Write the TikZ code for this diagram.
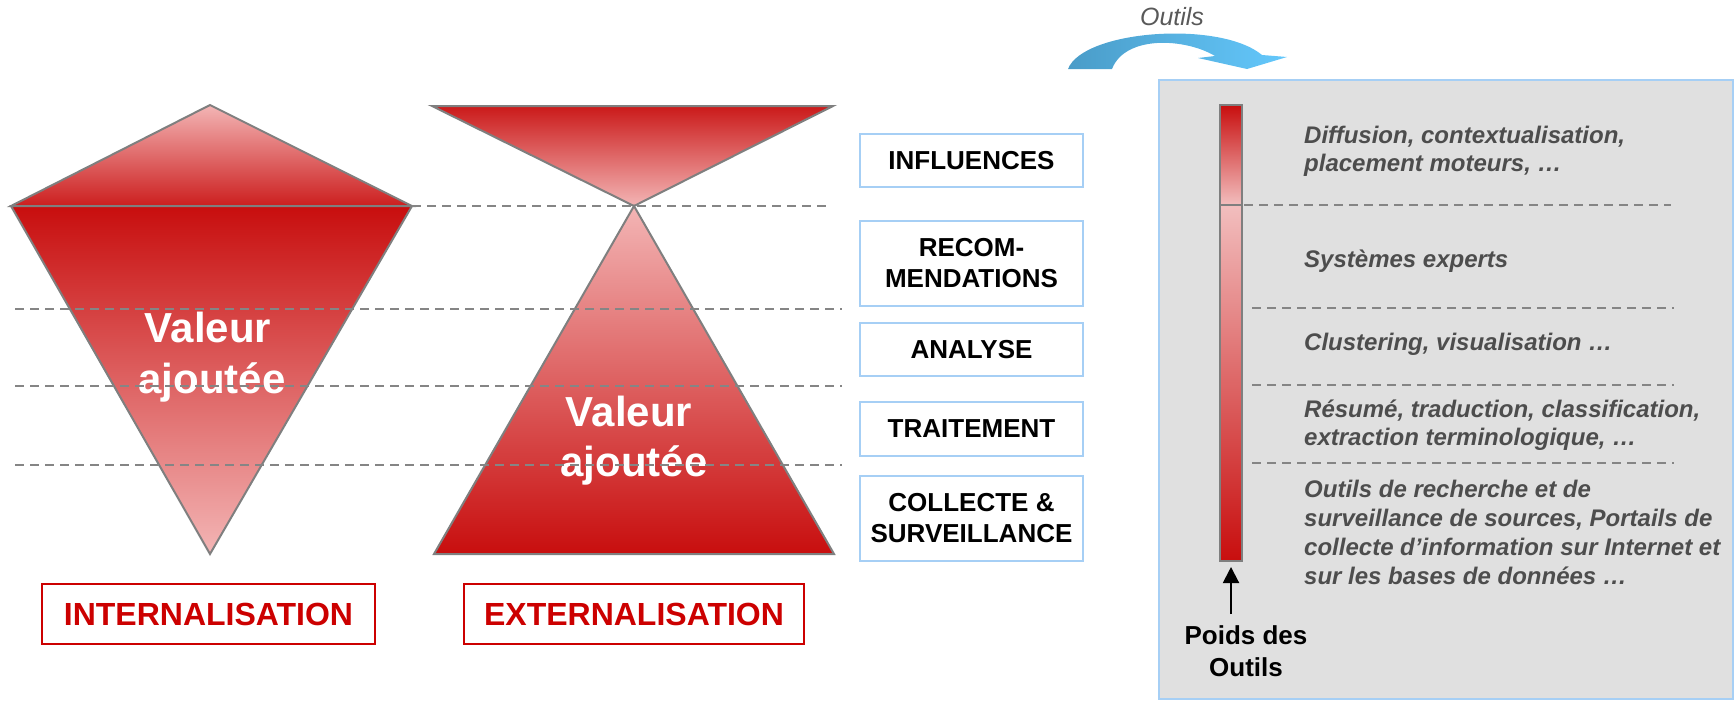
\documentclass[tikz,border=0pt]{standalone}
\usepackage{fontspec}
\setmainfont{Liberation Sans}
\usetikzlibrary{arrows.meta}
\definecolor{redD}{HTML}{C80E0E}
\definecolor{pinkL}{HTML}{F3B5B5}
\definecolor{pinkB}{HTML}{F2BEBE}
\definecolor{outl}{HTML}{7F7F7F}
\definecolor{dashc}{HTML}{858585}
\definecolor{boxblue}{HTML}{A6CFF5}
\definecolor{panelg}{HTML}{E0E0E0}
\definecolor{redT}{HTML}{CC0000}
\definecolor{txtg}{HTML}{4D4D4D}
\definecolor{outg}{HTML}{595959}
\definecolor{arrL}{HTML}{4A9CC8}
\definecolor{arrR}{HTML}{64C8FC}
\begin{document}
\begin{tikzpicture}[x=1pt,y=-1pt,
  trishape/.style={draw=outl,line width=2pt,line join=miter},
  sepline/.style={draw=dashc,line width=1.6pt,dash pattern=on 9pt off 6pt},
  stagebox/.style={draw=boxblue,line width=2pt,fill=white,minimum width=223pt,inner sep=0pt,align=center,font=\fontsize{26}{31}\selectfont\bfseries},
  modebox/.style={draw=redT,line width=2.5pt,fill=white,inner sep=0pt,text=redT,font=\fontsize{32}{38}\selectfont\bfseries},
  valtext/.style={text=white,anchor=base,inner sep=0pt,font=\fontsize{42}{51}\selectfont\bfseries},
  tooltext/.style={anchor=base west,inner sep=0pt,text=txtg,font=\fontsize{24}{29}\selectfont\bfseries\itshape},
  poidstext/.style={anchor=base,inner sep=0pt,font=\fontsize{26}{31}\selectfont\bfseries},
]
\useasboundingbox (0,0) rectangle (1736,701);

% ---- left kite (internalisation)
\shadedraw[trishape,top color=pinkL,bottom color=redD!90!pinkL] (210,105) -- (412,206) -- (11,206) -- cycle;
\shadedraw[trishape,top color=redD,bottom color=pinkL] (11,206) -- (412,206) -- (210,554) -- cycle;

% ---- hourglass (externalisation)
\shadedraw[trishape,top color=redD!95!white,bottom color=pinkL] (432,106) -- (833,106) -- (634,206) -- cycle;
\shadedraw[trishape,top color=pinkL,bottom color=redD] (634,206) -- (834,554) -- (434,554) -- cycle;

% ---- value texts
\node[valtext] (v1a) at (208,342) {Valeur};
\node[valtext] (v1b) at (212,393) {ajoutée};
\node[valtext] (v2a) at (629,426) {Valeur};
\node[valtext] (v2b) at (634,476) {ajoutée};

% ---- dashed level lines (over the texts)
\draw[sepline] (412,206) -- (830,206);
\draw[sepline] (15,309) -- (842,309);
\draw[sepline] (15,386) -- (842,386);
\draw[sepline] (15,465) -- (842,465);

% ---- stage boxes
\node[stagebox,minimum height=53pt] (infl) at (971.5,160.5) {INFLUENCES};
\node[stagebox,minimum height=85pt] (reco) at (971.5,263.5) {RECOM-\\MENDATIONS};
\node[stagebox,minimum height=53pt] (anal) at (971.5,349.5) {ANALYSE};
\node[stagebox,minimum height=54pt] (trait) at (971.5,429) {TRAITEMENT};
\node[stagebox,minimum height=85pt] (coll) at (971.5,518.5) {COLLECTE \&\\SURVEILLANCE};

% ---- mode boxes
\node[modebox,minimum width=333pt,minimum height=60pt] (intern) at (208.5,614) {INTERNALISATION};
\node[modebox,minimum width=340pt,minimum height=60pt] (extern) at (634,614) {EXTERNALISATION};

% ---- curved arrow and label
\shade[left color=arrL,right color=arrR]
  (1068,69) .. controls (1083,30) and (1220,20) .. (1262,55)
  -- (1287,57) -- (1247,69) -- (1198,58) -- (1215,56)
  .. controls (1185,38) and (1125,35) .. (1112,69) -- cycle;
\node[anchor=base,inner sep=0pt,text=outg,font=\fontsize{25}{30}\selectfont\itshape] (outils) at (1172,26) {Outils};

% ---- right panel
\draw[draw=boxblue,fill=panelg,line width=2pt] (1159,80) rectangle (1733,699);
\shadedraw[trishape,top color=redD,bottom color=pinkB] (1220,105) rectangle (1242,205);
\shadedraw[trishape,top color=pinkB,bottom color=redD] (1220,205) rectangle (1242,561);

\draw[sepline] (1244,205) -- (1671,205);
\draw[sepline] (1252,308) -- (1674,308);
\draw[sepline] (1252,385) -- (1674,385);
\draw[sepline] (1252,463) -- (1674,463);

\node[tooltext] (d1) at (1304,143) {Diffusion, contextualisation,};
\node[tooltext] (d2) at (1304,171) {placement moteurs, …};
\node[tooltext] (s1) at (1304,267) {Systèmes experts};
\node[tooltext] (c1) at (1304,350) {Clustering, visualisation …};
\node[tooltext] (r1) at (1304,417) {Résumé, traduction, classification,};
\node[tooltext] (r2) at (1304,445) {extraction terminologique, …};
\node[tooltext] (o1) at (1304,497) {Outils de recherche et de};
\node[tooltext] (o2) at (1304,526) {surveillance de sources, Portails de};
\node[tooltext] (o3) at (1304,555) {collecte d’information sur Internet et};
\node[tooltext] (o4) at (1304,584) {sur les bases de données …};

% ---- weight arrow
\node[poidstext] (p1) at (1246,644) {Poids des};
\node[poidstext] (p2) at (1246,676) {Outils};
\coordinate (barfoot) at (1231,567);
\coordinate (arrtail) at (1231,614);
\draw[line width=2pt,-{Triangle[width=16pt,length=16pt]}] (arrtail) -- (barfoot);
\end{tikzpicture}
\end{document}
